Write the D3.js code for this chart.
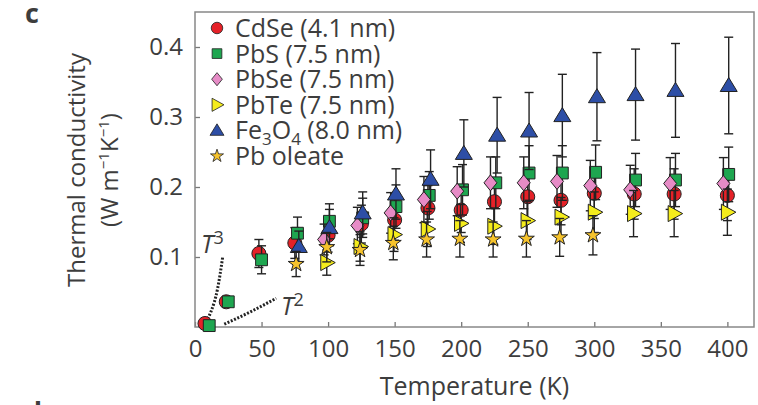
<!DOCTYPE html>
<html>
<head>
<meta charset="utf-8">
<script src="https://cdn.jsdelivr.net/npm/d3@7"></script>
<style>
  body { margin: 0; background: #fff; }
  text { font-family: "Open Sans", sans-serif; fill: #3d3d3d; }
</style>
</head>
<body>
<svg id="chart" width="758" height="405"></svg>
<script>
const width = 758, height = 405;
const margin = {top: 12, right: 4, bottom: 78, left: 195};

// series (temperature in K, conductivity in W m-1 K-1)
const cdseT   = [7.5, 23.5, 48, 75, 100, 125, 150, 175, 200, 225, 250, 275, 300, 330, 360, 400];
const cdseK   = [0.005, 0.036, 0.105, 0.12, 0.131, 0.147, 0.153, 0.17, 0.167, 0.179, 0.186, 0.181, 0.191, 0.19, 0.19, 0.188];
const cdseErr = [0, 0, 0.02, 0.022, 0.024, 0.027, 0.029, 0.032, 0.032, 0.034, 0.035, 0.035, 0.036, 0.036, 0.036, 0.036];

const pbsT   = [10.7, 25, 50, 77, 101, 126, 151, 176, 201, 226, 251, 276, 301, 331, 361, 401];
const pbsK   = [0.002, 0.036, 0.096, 0.134, 0.151, 0.156, 0.172, 0.188, 0.196, 0.206, 0.22, 0.22, 0.221, 0.21, 0.21, 0.218];
const pbsErr = [0, 0, 0.02, 0.023, 0.025, 0.028, 0.031, 0.034, 0.036, 0.037, 0.039, 0.039, 0.039, 0.038, 0.038, 0.039];

const pbseT   = [97, 122, 147, 172, 197, 222, 247, 272, 297, 327, 357, 397];
const pbseK   = [0.125, 0.145, 0.163, 0.182, 0.194, 0.206, 0.206, 0.208, 0.202, 0.196, 0.205, 0.205];
const pbseErr = [0.022, 0.026, 0.029, 0.033, 0.035, 0.037, 0.037, 0.037, 0.036, 0.035, 0.037, 0.037];

const pbteT   = [99, 124, 149.5, 174.5, 199.5, 224.5, 249.5, 275, 300, 329.5, 360, 400];
const pbteK   = [0.092, 0.115, 0.132, 0.14, 0.148, 0.144, 0.152, 0.157, 0.164, 0.162, 0.162, 0.164];
const pbteErr = [0.018, 0.021, 0.024, 0.025, 0.027, 0.026, 0.027, 0.028, 0.029, 0.033, 0.033, 0.033];

const fe3o4T   = [78, 101, 126, 151, 177, 202, 227, 251, 276, 302, 331, 361, 401];
const fe3o4K   = [0.115, 0.142, 0.163, 0.19, 0.211, 0.248, 0.274, 0.28, 0.302, 0.329, 0.332, 0.338, 0.345];
const fe3o4Err = [0.022, 0.026, 0.03, 0.036, 0.042, 0.048, 0.054, 0.055, 0.059, 0.063, 0.065, 0.067, 0.069];

const oleateT   = [76, 99, 124, 149, 174, 199, 224, 249, 274, 299];
const oleateK   = [0.09, 0.114, 0.11, 0.12, 0.125, 0.126, 0.125, 0.126, 0.128, 0.131];
const oleateErr = [0.018, 0.021, 0.022, 0.024, 0.025, 0.026, 0.025, 0.026, 0.027, 0.028];

// guide lines at low temperature
const t3Guide = [[6, 0.004], [12, 0.022], [17, 0.055], [20.8, 0.1]];
const t2Guide = [[22, 0.004], [42, 0.022], [61, 0.041]];

const xTicks = [0, 50, 100, 150, 200, 250, 300, 350, 400];
const yTicks = [0.1, 0.2, 0.3, 0.4];

const series = [
  {name: "CdSe (4.1 nm)",  shape: "circle",  fill: "#e52128", T: cdseT,   K: cdseK,   E: cdseErr},
  {name: "PbS (7.5 nm)",   shape: "square",  fill: "#1ea650", T: pbsT,    K: pbsK,    E: pbsErr},
  {name: "PbSe (7.5 nm)",  shape: "diamond", fill: "#e68bc6", T: pbseT,   K: pbseK,   E: pbseErr},
  {name: "PbTe (7.5 nm)",  shape: "right",   fill: "#f4ec1c", T: pbteT,   K: pbteK,   E: pbteErr},
  {name: "Fe3O4",          shape: "up",      fill: "#2d4ea6", T: fe3o4T,  K: fe3o4K,  E: fe3o4Err},
  {name: "Pb oleate",      shape: "star",    fill: "#f6c32c", T: oleateT, K: oleateK, E: oleateErr}
];

const shapes = {
  circle: d3.symbol(d3.symbolCircle, 155)(),
  square: d3.symbol(d3.symbolSquare, 140)(),
  diamond: "M0,-8L6.5,0L0,8L-6.5,0Z",
  right: "M-6,-8L8.5,0L-6,8Z",
  up: "M0,-8L8.5,6L-8.5,6Z",
  star: d3.symbol(d3.symbolStar, 78)()
};

const svg = d3.select("#chart");

const x = d3.scaleLinear().domain([0, 420]).range([margin.left, width - margin.right]);
const y = d3.scaleLinear().domain([0, 0.45]).range([height - margin.bottom, margin.top]);

// axes (ticks point inward)
const xAxis = svg.append("g")
  .attr("transform", `translate(0,${height - margin.bottom})`)
  .call(d3.axisBottom(x).tickValues(xTicks).tickSize(-5).tickPadding(13).tickFormat(d3.format("d")));
const yAxis = svg.append("g")
  .attr("transform", `translate(${margin.left},0)`)
  .call(d3.axisLeft(y).tickValues(yTicks).tickSize(-5).tickPadding(12).tickFormat(d3.format(".1f")));
[xAxis, yAxis].forEach(g => {
  g.select(".domain").remove();
  g.selectAll(".tick line").attr("stroke", "#777").attr("stroke-width", 1.3);
  g.selectAll(".tick text").attr("font-size", 24).attr("fill", "#3d3d3d")
    .style("font-family", "'Open Sans', sans-serif");
});

// frame
svg.append("rect")
  .attr("x", margin.left).attr("y", margin.top)
  .attr("width", width - margin.left - margin.right)
  .attr("height", height - margin.top - margin.bottom)
  .attr("fill", "none").attr("stroke", "#888").attr("stroke-width", 1.5);

// guide lines
const guideLine = d3.line().x(d => x(d[0])).y(d => y(d[1])).curve(d3.curveMonotoneX);
[t3Guide, t2Guide].forEach(g => {
  svg.append("path").attr("d", guideLine(g))
    .attr("fill", "none").attr("stroke", "#222").attr("stroke-width", 3)
    .attr("stroke-dasharray", "2,1.6");
});
const t3 = svg.append("text").attr("x", 201).attr("y", 253).attr("font-size", 25).style("font-style", "italic");
t3.append("tspan").text("T");
t3.append("tspan").attr("font-size", 18).attr("dy", -9).style("font-style", "normal").text("3");
const t2 = svg.append("text").attr("x", 281).attr("y", 315).attr("font-size", 25).style("font-style", "italic");
t2.append("tspan").text("T");
t2.append("tspan").attr("font-size", 18).attr("dy", -9).style("font-style", "normal").text("2");

// data: error bars then markers, series by series
series.forEach(s => {
  const pts = s.T.map((t, i) => ({t, k: s.K[i], e: s.E[i]}));
  const g = svg.append("g");
  const eb = g.selectAll(".eb").data(pts.filter(d => d.e > 0)).join("g")
    .attr("stroke", "#222").attr("stroke-width", 1.4);
  eb.append("line").attr("x1", d => x(d.t)).attr("x2", d => x(d.t))
    .attr("y1", d => y(d.k - d.e)).attr("y2", d => y(d.k + d.e));
  eb.append("line").attr("x1", d => x(d.t) - 4.5).attr("x2", d => x(d.t) + 4.5)
    .attr("y1", d => y(d.k + d.e)).attr("y2", d => y(d.k + d.e));
  eb.append("line").attr("x1", d => x(d.t) - 4.5).attr("x2", d => x(d.t) + 4.5)
    .attr("y1", d => y(d.k - d.e)).attr("y2", d => y(d.k - d.e));
  g.selectAll(".mk").data(pts).join("path")
    .attr("d", shapes[s.shape])
    .attr("transform", d => `translate(${x(d.t)},${y(d.k)})`)
    .attr("fill", s.fill).attr("stroke", "#222").attr("stroke-width", 1);
});

// legend
const legend = svg.append("g");
series.forEach((s, i) => {
  const cy = 28 + i * 25.6;
  legend.append("path").attr("d", shapes[s.shape])
    .attr("transform", `translate(217,${cy}) scale(0.82)`)
    .attr("fill", s.fill).attr("stroke", "#222").attr("stroke-width", 1);
  const t = legend.append("text").attr("x", 235).attr("y", cy + 9).attr("font-size", 25);
  if (s.name === "Fe3O4") {
    t.append("tspan").text("Fe");
    t.append("tspan").attr("font-size", 17).attr("dy", 6).text("3");
    t.append("tspan").attr("dy", -6).text("O");
    t.append("tspan").attr("font-size", 17).attr("dy", 6).text("4");
    t.append("tspan").attr("dy", -6).text(" (8.0 nm)");
  } else {
    t.text(s.name);
  }
});

// axis titles
svg.append("text").attr("x", (margin.left + width - margin.right) / 2).attr("y", 395)
  .attr("text-anchor", "middle").attr("font-size", 25).text("Temperature (K)");
svg.append("text").attr("transform", "translate(85,170) rotate(-90)")
  .attr("text-anchor", "middle").attr("font-size", 24).text("Thermal conductivity");
const yl = svg.append("text").attr("transform", "translate(118,170) rotate(-90)")
  .attr("text-anchor", "middle").attr("font-size", 24);
yl.append("tspan").text("(W m");
yl.append("tspan").attr("font-size", 15).attr("dy", -9).text("\u22121");
yl.append("tspan").attr("dy", 9).text("K");
yl.append("tspan").attr("font-size", 15).attr("dy", -9).text("\u22121");
yl.append("tspan").attr("dy", 9).text(")");

// panel labels
svg.append("text").attr("x", 25).attr("y", 23).attr("font-size", 27)
  .attr("font-weight", "bold").attr("fill", "#111").text("c");
svg.append("text").attr("x", 25).attr("y", 421).attr("font-size", 27)
  .attr("font-weight", "bold").attr("fill", "#111").text("d");
</script>
</body>
</html>
